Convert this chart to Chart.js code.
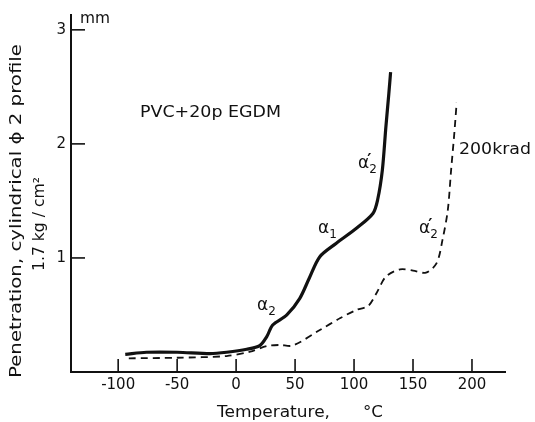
<!DOCTYPE html>
<html lang="en">
<head>
<meta charset="UTF-8">
<title>Penetration vs temperature</title>
<script src="https://cdn.jsdelivr.net/npm/chart.js@4.4.1/dist/chart.umd.min.js"></script>
<style>
    body { margin: 0; background: #fff; }
    #wrap { width: 535px; height: 422px; }
</style>
</head>
<body>
<div id="wrap"><canvas id="chart"></canvas></div>
<script>
    // PVC + 20p EGDM, unirradiated (solid)
    const solidTemp = [-94, -76, -50, -22, -8, 9, 20, 26, 31, 43, 54, 62, 71, 85, 102, 116, 120, 124, 127, 129.5, 131];
    const solidPen = [0.155, 0.173, 0.173, 0.161, 0.173, 0.199, 0.231, 0.31, 0.412, 0.5, 0.646, 0.822, 1.011, 1.129, 1.26, 1.39, 1.51, 1.77, 2.15, 2.44, 2.63];
    // 200 krad (dashed)
    const dashTemp = [-91, -50, -8, 12, 26, 37, 48, 71, 88, 102, 112, 119, 127, 139, 150, 161, 170, 175, 179.5, 182.3, 185, 187];
    const dashPen = [0.12, 0.125, 0.14, 0.178, 0.228, 0.237, 0.232, 0.368, 0.471, 0.544, 0.579, 0.69, 0.836, 0.9, 0.889, 0.871, 0.954, 1.158, 1.42, 1.77, 2.09, 2.36];

    const xTicks = [-100, -50, 0, 50, 100, 150, 200];
    const yTicks = [1, 2, 3];

    const FONT = '"DejaVu Sans", sans-serif';

    function toPoints(xs, ys) {
        return xs.map((x, i) => ({ x: x, y: ys[i] }));
    }

    // text squeezed/stretched to the width it has in the figure
    function fitText(ctx, text, x, y, width, size) {
        ctx.save();
        ctx.font = size + 'px ' + FONT;
        const w = ctx.measureText(text).width;
        ctx.translate(x, y);
        ctx.scale(width / w, 1);
        ctx.textAlign = 'left';
        ctx.textBaseline = 'middle';
        ctx.fillText(text, 0, 0);
        ctx.restore();
    }

    function alpha(ctx, x, y, sub, prime) {
        ctx.save();
        ctx.textBaseline = 'middle';
        ctx.textAlign = 'left';
        ctx.font = '17px ' + FONT;
        ctx.fillText('α', x, y);
        const w = ctx.measureText('α').width;
        if (prime) {
            ctx.font = 'bold 16px ' + FONT;
            ctx.fillText('′', x + w - 2, y - 3);
        }
        ctx.font = '12px ' + FONT;
        ctx.fillText(sub, x + w, y + 6);
        ctx.restore();
    }

    const annotations = {
        id: 'annotations',
        afterDraw(chart) {
            const ctx = chart.ctx;
            const xs = chart.scales.x, ys = chart.scales.y;
            const a = chart.chartArea;
            ctx.save();
            ctx.strokeStyle = '#111';
            ctx.lineWidth = 1.6;
            xTicks.forEach(v => {
                const px = xs.getPixelForValue(v);
                ctx.beginPath();
                ctx.moveTo(px, a.bottom);
                ctx.lineTo(px, a.bottom - 13);
                ctx.stroke();
            });
            yTicks.forEach(v => {
                const py = ys.getPixelForValue(v);
                ctx.beginPath();
                ctx.moveTo(a.left, py);
                ctx.lineTo(a.left + 14, py);
                ctx.stroke();
            });

            ctx.fillStyle = '#111';
            fitText(ctx, 'mm', 80, 19, 30, 15);
            fitText(ctx, 'PVC+20p EGDM', 140, 113, 141, 15);
            fitText(ctx, '200krad', 459, 150, 72, 16);
            fitText(ctx, 'Temperature,', 217, 413, 113, 16);
            fitText(ctx, '°C', 363, 413, 20, 16);

            alpha(ctx, 257, 306, '2', false);
            alpha(ctx, 318, 229, '1', false);
            alpha(ctx, 358, 164, '2', true);
            alpha(ctx, 419, 229, '2', true);

            // y title, two rotated lines
            ctx.save();
            ctx.translate(17, 211);
            ctx.rotate(-Math.PI / 2);
            fitText(ctx, 'Penetration, cylindrical ϕ 2 profile', -167, 0, 334, 16);
            ctx.restore();
            ctx.save();
            ctx.translate(40, 224);
            ctx.rotate(-Math.PI / 2);
            fitText(ctx, '1.7 kg / cm²', -47, 0, 94, 16);
            ctx.restore();
            ctx.restore();
        }
    };

    new Chart(document.getElementById('chart'), {
        type: 'line',
        data: {
            datasets: [{
                label: 'PVC+20p EGDM',
                data: toPoints(solidTemp, solidPen),
                borderColor: '#111',
                borderWidth: 3.2,
                pointRadius: 0,
                tension: 0.3
            }, {
                label: '200krad',
                data: toPoints(dashTemp, dashPen),
                borderColor: '#111',
                borderWidth: 1.8,
                borderDash: [7, 5],
                pointRadius: 0,
                tension: 0.3
            }]
        },
        options: {
            responsive: true,
            maintainAspectRatio: false,
            animation: false,
            layout: { padding: { top: 15, right: 30, left: 0, bottom: 0 } },
            plugins: { legend: { display: false }, tooltip: { enabled: false } },
            scales: {
                x: {
                    type: 'linear',
                    min: -140,
                    max: 228,
                    border: { color: '#111', width: 2 },
                    grid: { drawOnChartArea: false, drawTicks: false },
                    ticks: { color: '#111', font: { family: FONT, size: 15 }, padding: 4, maxRotation: 0, autoSkip: false },
                    afterBuildTicks: s => { s.ticks = xTicks.map(v => ({ value: v })); },
                    afterFit: s => { s.height = 50; }
                },
                y: {
                    type: 'linear',
                    min: 0,
                    max: 3.13,
                    border: { color: '#111', width: 2 },
                    grid: { drawOnChartArea: false, drawTicks: false },
                    ticks: { color: '#111', font: { family: FONT, size: 15 }, padding: 5 },
                    afterBuildTicks: s => { s.ticks = yTicks.map(v => ({ value: v })); },
                    afterFit: s => { s.width = 71; }
                }
            }
        },
        plugins: [annotations]
    });
</script>
</body>
</html>
